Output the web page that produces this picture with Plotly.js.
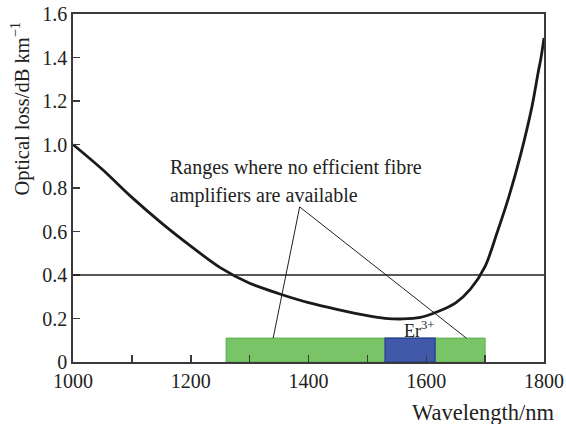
<!DOCTYPE html>
<html><head><meta charset="utf-8">
<script src="https://cdn.plot.ly/plotly-3.0.1.min.js"></script>
<style>html,body{margin:0;padding:0;background:#fff}#chart{width:566px;height:424px}</style>
</head><body><div id="chart"></div>
<script>
// Data
const wavelength = [1000,1050,1100,1150,1200,1250,1300,1350,1400,1450,1500,1530,1560,1590,1620,1650,1675,1700,1720,1740,1760,1780,1790,1795,1800];
const loss       = [1.0,0.885,0.757,0.64,0.533,0.434,0.362,0.314,0.273,0.241,0.213,0.201,0.198,0.205,0.232,0.272,0.335,0.44,0.592,0.757,0.95,1.18,1.33,1.40,1.49];
const xTickVals = [1000,1200,1400,1600,1800];
const xTickText = ['1000','1200','1400','1600','1800'];
const yTickVals = [0,0.2,0.4,0.6,0.8,1.0,1.2,1.4,1.6];
const yTickText = ['0','0.2','0.4','0.6','0.8','1.0','1.2','1.4','1.6'];
const referenceLoss = 0.4;
const noAmpRange = [1260,1700];
const erRange = [1530,1615];
const bandHeight = 0.11;
const calloutApex = [1385,0.713];
const calloutTargets = [[1340,0.11],[1668,0.11]];
const calloutLines = ['Ranges where no efficient fibre','amplifiers are available'];
const calloutPos = [[1161,0.892],[1161,0.767]];
const erLabel = 'Er<sup>3+</sup>';
const erLabelPos = [1588,0.15];

const FONT = '"Liberation Serif", "Times New Roman", Times, serif';
const INK = '#231f20';

const shapes = [
  {type:'rect',xref:'x',yref:'y',x0:noAmpRange[0],x1:noAmpRange[1],y0:0,y1:bandHeight,
   fillcolor:'#78c467',line:{color:'#5fae50',width:1},layer:'below'},
  {type:'rect',xref:'x',yref:'y',x0:erRange[0],x1:erRange[1],y0:0,y1:bandHeight,
   fillcolor:'#405aa9',line:{color:'#22389a',width:1.2},layer:'below'},
  {type:'line',xref:'x',yref:'y',x0:wavelength[0],x1:wavelength[wavelength.length-1],
   y0:referenceLoss,y1:referenceLoss,line:{color:INK,width:1.5}}
];
calloutTargets.forEach(t=>{
  shapes.push({type:'line',xref:'x',yref:'y',x0:calloutApex[0],y0:calloutApex[1],x1:t[0],y1:t[1],
    line:{color:INK,width:1}});
});

const annotations = calloutLines.map((txt,i)=>({
  text:txt,x:calloutPos[i][0],y:calloutPos[i][1],xref:'x',yref:'y',
  xanchor:'left',yanchor:'middle',showarrow:false,font:{family:FONT,size:20,color:'#222'}
}));
annotations.push({text:erLabel,x:erLabelPos[0],y:erLabelPos[1],xref:'x',yref:'y',
  xanchor:'center',yanchor:'middle',showarrow:false,font:{family:FONT,size:18,color:'#222'}});
annotations.push({text:'Optical loss/dB km<sup>\u22121</sup>',xref:'paper',yref:'y',x:0,y:1.165,
  xanchor:'center',yanchor:'middle',xshift:-52,textangle:-90,showarrow:false,
  font:{family:FONT,size:20.5,color:'#222'}});
annotations.push({text:'Wavelength/nm',xref:'paper',yref:'paper',x:1,y:0,
  xanchor:'right',yanchor:'middle',xshift:12,yshift:-50,showarrow:false,
  font:{family:FONT,size:22.5,color:'#222'}});

const trace = {x:wavelength,y:loss,type:'scatter',mode:'lines',
  line:{color:'#1a1a1a',width:2.8,shape:'spline',smoothing:0.9},hoverinfo:'skip'};

const axisCommon = {showline:true,linecolor:'#3a3a3a',linewidth:1.8,mirror:true,
  ticks:'inside',ticklen:7,tickwidth:1.5,tickcolor:'#3a3a3a',showgrid:false,zeroline:false,
  tickfont:{family:FONT,size:20,color:'#222'}};

const layout = {
  width:566,height:424,margin:{l:73,r:22,t:14,b:62},
  font:{family:FONT,color:'#222'},
  paper_bgcolor:'#fff',plot_bgcolor:'#fff',showlegend:false,
  xaxis:Object.assign({},axisCommon,{range:[1000,1800],tickmode:'array',tickvals:xTickVals,ticktext:xTickText,
    minor:{dtick:100,ticks:'inside',ticklen:7,tickwidth:1.5,tickcolor:'#3a3a3a',showgrid:false}}),
  yaxis:Object.assign({},axisCommon,{range:[0,1.6],tickmode:'array',tickvals:yTickVals,ticktext:yTickText}),
  shapes:shapes,annotations:annotations
};
Plotly.newPlot('chart',[trace],layout,{staticPlot:true,displayModeBar:false});
</script></body></html>
